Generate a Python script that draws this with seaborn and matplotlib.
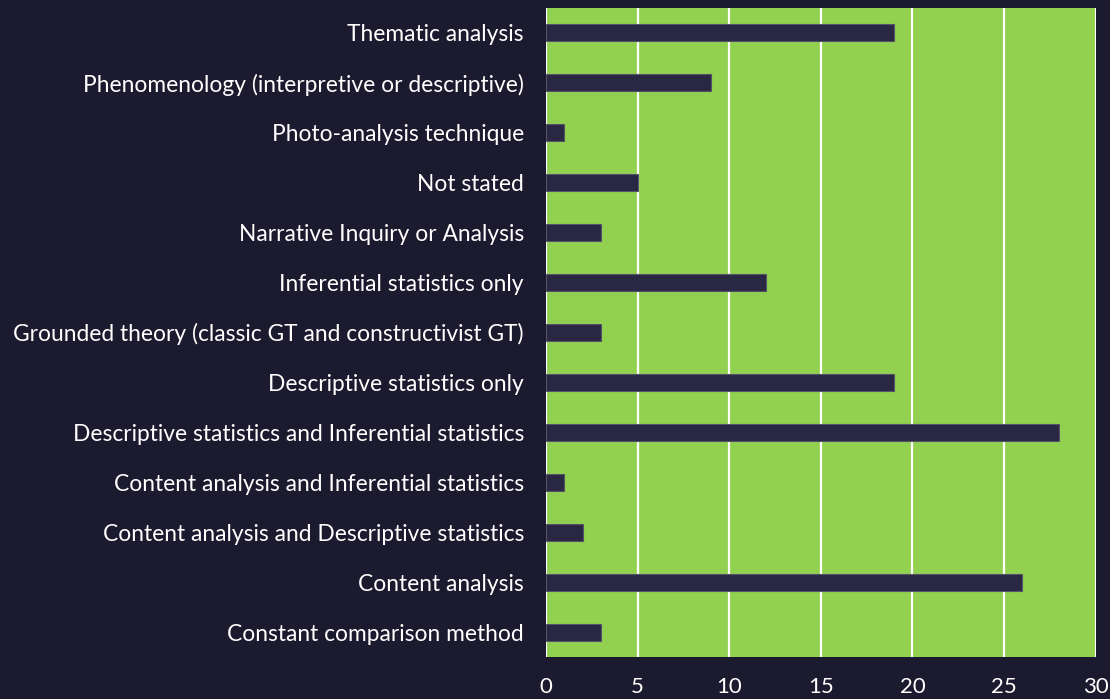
import pandas as pd
import matplotlib.pyplot as plt
import seaborn as sns

# Analysis methods and counts (top to bottom as shown)
methods = [
    "Thematic analysis",
    "Phenomenology (interpretive or descriptive)",
    "Photo-analysis technique",
    "Not stated",
    "Narrative Inquiry or Analysis",
    "Inferential statistics only",
    "Grounded theory (classic GT and constructivist GT)",
    "Descriptive statistics only",
    "Descriptive statistics and Inferential statistics",
    "Content analysis and Inferential statistics",
    "Content analysis and Descriptive statistics",
    "Content analysis",
    "Constant comparison method",
]
counts = [19, 9, 1, 5, 3, 12, 3, 19, 28, 1, 2, 26, 3]
x_ticks = [0, 5, 10, 15, 20, 25, 30]

df = pd.DataFrame({"method": methods, "count": counts})

bg = "#1c1a2e"
green = "#92d050"
bar_col = "#2a2745"

sns.set_style("white")
plt.rcParams["font.family"] = ["Lato", "DejaVu Sans"]

fig = plt.figure(figsize=(11.1, 6.99), dpi=100, facecolor=bg)
ax = fig.add_axes([0.492, 0.060, 0.495, 0.929])
ax.set_facecolor(green)

sns.barplot(data=df, x="count", y="method", order=methods, color=bar_col,
            width=0.34, edgecolor="#55536a", linewidth=0.8, saturation=1,
            ax=ax, zorder=3)

ax.set_xlim(0, 30)
ax.set_xticks(x_ticks)
ax.xaxis.grid(True, color="white", linewidth=1.6, zorder=1)
ax.set_axisbelow(True)
for s in ax.spines.values():
    s.set_visible(False)

ax.tick_params(axis="both", length=0, colors="white")
ax.tick_params(axis="x", labelsize=16, pad=14)
ax.tick_params(axis="y", labelsize=16.4, pad=16)
ax.set_xlabel("")
ax.set_ylabel("")

plt.savefig("out.png", dpi=100, facecolor=bg)
